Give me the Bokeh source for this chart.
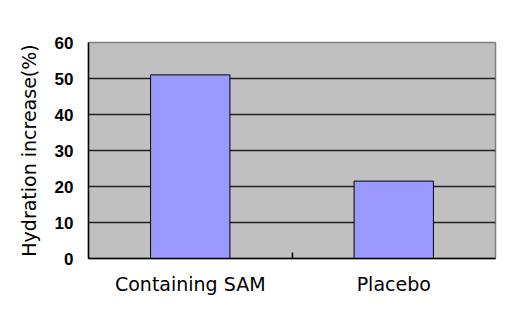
from bokeh.plotting import figure
from bokeh.models import FixedTicker, ColumnDataSource, Range1d, BoxAnnotation
from bokeh.embed import file_html
from bokeh.resources import INLINE

categories = ["Containing SAM", "Placebo"]
values = [51, 21.5]
y_ticks = [0, 10, 20, 30, 40, 50, 60]

xpos = [i + 0.5 for i in range(len(categories))]
src = ColumnDataSource(dict(x=xpos, val=values))

W, H = 495, 305
p = figure(x_range=Range1d(0, len(categories)), y_range=(0, 60), width=W, height=H,
           output_backend="svg", toolbar_location=None,
           min_border_left=80, min_border_right=8, min_border_top=31, min_border_bottom=58,
           styles={"margin-left": "8px", "margin-top": "11px"})
p.background_fill_color = "#c0c0c0"
p.border_fill_color = "white"
p.outline_line_color = "#808080"
p.outline_line_width = 1.5

p.vbar(x="x", top="val", width=0.39, source=src, fill_color="#9999ff",
       line_color="black", line_width=1)

# outer chart-area border (top and left edges visible)
frame_box = BoxAnnotation(left=1, right=W + 20, top=1, bottom=H + 20,
                          left_units="canvas", right_units="canvas",
                          top_units="canvas", bottom_units="canvas",
                          fill_color=None, fill_alpha=0, line_color="#606060",
                          line_width=2, level="overlay")
p.add_layout(frame_box)

p.xaxis.ticker = FixedTicker(ticks=xpos, minor_ticks=list(range(1, len(categories))))
p.xaxis.major_label_overrides = {x: c for x, c in zip(xpos, categories)}
p.xaxis.major_tick_line_color = None
p.xaxis.minor_tick_in = 6
p.xaxis.minor_tick_out = 0
p.xaxis.minor_tick_line_color = "black"
p.xaxis.minor_tick_line_width = 1.5
p.xaxis.axis_line_color = "black"
p.xaxis.axis_line_width = 1.5
p.xaxis.major_label_text_font = "DejaVu Sans"
p.xaxis.major_label_text_font_size = "19px"
p.xaxis.major_label_text_color = "black"
p.xaxis.major_label_standoff = 8

p.yaxis.ticker = FixedTicker(ticks=y_ticks)
p.yaxis.axis_label = "Hydration increase(%)"
p.yaxis.axis_label_text_font = "DejaVu Sans"
p.yaxis.axis_label_text_font_size = "19px"
p.yaxis.axis_label_text_font_style = "normal"
p.yaxis.axis_label_text_color = "black"
p.yaxis.axis_label_standoff = 12
p.yaxis.major_label_text_font = "Liberation Sans"
p.yaxis.major_label_text_font_style = "bold"
p.yaxis.major_label_text_font_size = "17px"
p.yaxis.major_label_text_color = "black"
p.yaxis.major_label_standoff = 15
p.yaxis.major_tick_out = 0
p.yaxis.major_tick_in = 0
p.yaxis.minor_tick_line_color = None
p.yaxis.axis_line_color = "black"
p.yaxis.axis_line_width = 1.5

p.xgrid.grid_line_color = None
p.ygrid.grid_line_color = "#222222"
p.ygrid.grid_line_width = 1.5

open("out.html", "w").write(file_html(p, INLINE))
